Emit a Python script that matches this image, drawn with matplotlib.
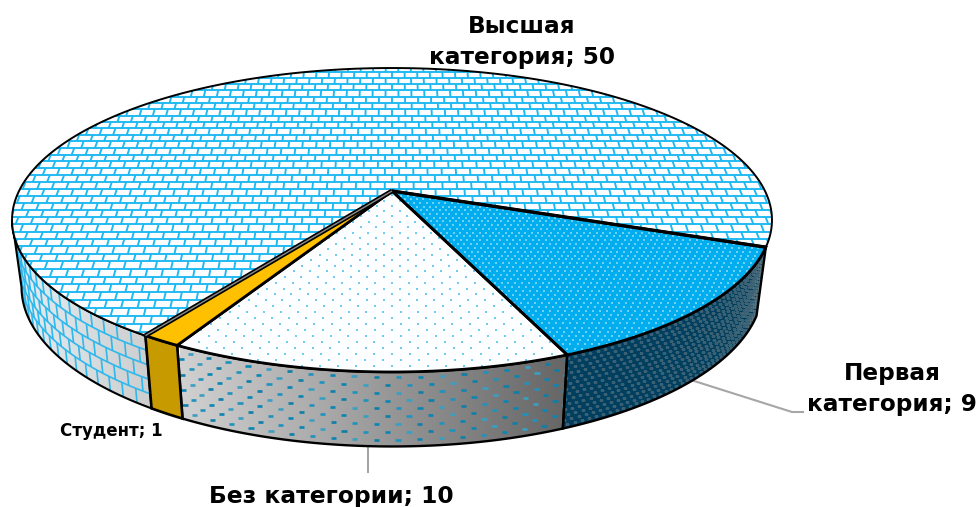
import numpy as np
import matplotlib
matplotlib.use("Agg")
import matplotlib.pyplot as plt
from matplotlib.patches import Polygon
from matplotlib.collections import LineCollection

categories = ["Высшая", "Первая", "Без категории", "Студент"]
values = [50, 9, 10, 1]

plt.rcParams["font.family"] = ["DejaVu Sans"]

fig = plt.figure(figsize=(9.8, 5.07), dpi=100)
ax = fig.add_axes([0, 0, 1, 1])
ax.set_xlim(0, 980)
ax.set_ylim(507, 0)
ax.axis("off")

# perspective of the disc, fitted on the slice corners
cx, cy = 392, 191
k = 0.1908

def top_ring(a):
    u, v = np.cos(a), np.sin(a)
    d = 1 + k * v
    return cx + 373 * u / d, (cy - 110 * v) / d

def ring(a, z=0.0):
    x, y = top_ring(a)
    xb = cx + 0.975 * (x - cx)
    yb = 1.047 * y + 57
    return x + (xb - x) * z, y + (yb - y) * z

# slices run clockwise from the student/top slice boundary
start = np.radians(-123.8)
sweeps = np.array(values) / sum(values) * 2 * np.pi
edges = start - np.concatenate([[0], np.cumsum(sweeps)])
ranges = [(edges[i], edges[i + 1]) for i in range(len(values))]

def arc(a0, a1, n=200):
    return np.linspace(a0, a1, n)

def wall_poly(a0, a1):
    t = arc(a0, a1)
    x0, y0 = ring(t, 0)
    x1, y1 = ring(t[::-1], 1)
    return np.column_stack([np.r_[x0, x1], np.r_[y0, y1]])

def top_poly(a0, a1):
    x, y = ring(arc(a0, a1), 0)
    return np.column_stack([np.r_[cx, x], np.r_[cy, y]])

def persp(y):
    return (y + 700) / 890

def brick_lines():
    rows = [60.0]
    while rows[-1] < 400:
        rows.append(rows[-1] + 7 * persp(rows[-1]))
    segs = []
    for i, y in enumerate(rows[:-1]):
        y2 = rows[i + 1]
        segs.append([(0, y), (980, y)])
        off = 0.5 if i % 2 else 0.0
        for j in np.arange(-45, 45):
            xi = (j + off) * 14.5
            segs.append([(cx + xi * persp(y), y), (cx + xi * persp(y2), y2)])
    return segs

def dot_grid(xstep, ystep, y0, y1):
    xs, ys = [], []
    y, i = y0, 0
    while y < y1:
        off = 0.5 if i % 2 else 0.0
        for j in np.arange(-120, 120):
            xs.append(cx + (j + off) * xstep * persp(y))
            ys.append(y)
        y += ystep * persp(y)
        i += 1
    return np.array(xs), np.array(ys)

def gradient_wall(poly, c_left, c_right, x0, x1):
    p = Polygon(poly, closed=True, fc="none", ec="none", zorder=2)
    ax.add_patch(p)
    ramp = np.linspace(0, 1, 256)[None, :, None]
    img = (1 - ramp) * np.array(c_left) + ramp * np.array(c_right)
    im = ax.imshow(img, extent=[x0, x1, 460, 200], aspect="auto", zorder=2, interpolation="bilinear")
    im.set_clip_path(p)
    ax.set_xlim(0, 980)
    ax.set_ylim(507, 0)

# ---- walls
a0, a1 = ranges[0]
# left part of the big slice, ends at the silhouette of the disc
left_end = np.radians(-169)
wall_a = arc(a0, left_end)
gradient_wall(wall_poly(a0, left_end), (0.90, 0.94, 0.96), (0.80, 0.80, 0.80), 10, 155)
segs = []
for r, z in enumerate(np.linspace(0, 1, 6)[1:-1]):
    x, y = ring(wall_a, z)
    segs.append(np.column_stack([x, y]))
for r in range(5):
    z0, z1 = r / 5, (r + 1) / 5
    off = 0.5 if r % 2 else 0.0
    for j in np.arange(0, 20):
        t = a0 - np.radians((j + off) * 2.6)
        xa, ya = ring(t, z0)
        xb, yb = ring(t, z1)
        segs.append(np.array([[xa, ya], [xb, yb]]))
lc = LineCollection(segs, colors="#2fb8ec", linewidths=1.2, zorder=3)
ax.add_collection(lc)
p = Polygon(wall_poly(a0, left_end), closed=True, fc="none", ec="none", zorder=3)
ax.add_patch(p)
lc.set_clip_path(p)
ax.add_patch(Polygon(wall_poly(a0, left_end), closed=True, fc="none", ec="black", lw=1.5, zorder=6))

# first category wall
a0, a1 = ranges[1]
poly = wall_poly(a0, a1)
p = Polygon(poly, closed=True, fc="#003f5f", ec="none", zorder=2)
ax.add_patch(p)
rows, cols = [], []
for r, z in enumerate(np.arange(0.04, 1, 0.07)):
    off = 0.5 if r % 2 else 0.0
    t = a0 - np.radians(1.1) * (np.arange(0, 43) + off)
    x, y = ring(t, z)
    rows.append(x)
    cols.append(y)
sc = ax.scatter(np.concatenate(rows), np.concatenate(cols), s=5, marker="_", c="#7f8a8c", linewidths=0.9, alpha=0.45, zorder=3)
sc.set_clip_path(p)
ax.add_patch(Polygon(poly, closed=True, fc="none", ec="black", lw=1.7, zorder=6))

# no category wall
a0, a1 = ranges[2]
poly = wall_poly(a0, a1)
gradient_wall(poly, (0.40, 0.40, 0.40), (0.82, 0.82, 0.82), 565, 180)
p = Polygon(poly, closed=True, fc="none", ec="none", zorder=3)
ax.add_patch(p)
dx, dy, dc = [], [], []
shades = ["#1f93bd", "#0f7fa8", "#3a9fc0", "#0a86b5"]
for r, z in enumerate(np.arange(0.07, 1, 0.105)):
    off = 0.5 if r % 2 else 0.0
    t = a0 - np.radians(2.75) * (np.arange(0, 20) + off)
    x, y = ring(t, z)
    dx.append(x)
    dy.append(y)
    dc += [shades[(r + j) % 4] for j in range(20)]
sc = ax.scatter(np.concatenate(dx), np.concatenate(dy), s=14, marker="_", c=dc, linewidths=1.9, zorder=4)
sc.set_clip_path(p)
ax.add_patch(Polygon(poly, closed=True, fc="none", ec="black", lw=1.7, zorder=6))

# student wall
a0, a1 = ranges[3]
ax.add_patch(Polygon(wall_poly(a0, a1), closed=True, fc="#c79a00", ec="black", lw=1.9, zorder=6))

# ---- top faces
# big slice, bricks
poly = top_poly(*ranges[0])
p = Polygon(poly, closed=True, fc="#fbfdfe", ec="none", zorder=7)
ax.add_patch(p)
lc = LineCollection(brick_lines(), colors="#1cb8f2", linewidths=1.35, zorder=8)
ax.add_collection(lc)
lc.set_clip_path(p)
ax.add_patch(Polygon(poly, closed=True, fc="none", ec="black", lw=1.4, zorder=12))

# first category, fine dots
poly = top_poly(*ranges[1])
p = Polygon(poly, closed=True, fc="#00aeef", ec="none", zorder=7)
ax.add_patch(p)
x, y = dot_grid(6.2, 3.6, 185, 365)
sc = ax.scatter(x, y, s=2.6, marker="s", c="#6fd0f5", linewidths=0, zorder=8)
sc.set_clip_path(p)
ax.add_patch(Polygon(poly, closed=True, fc="none", ec="black", lw=2.0, zorder=12))

# no category, sparse dots
poly = top_poly(*ranges[2])
p = Polygon(poly, closed=True, fc="#fcfeff", ec="none", zorder=7)
ax.add_patch(p)
x, y = dot_grid(15, 5.2, 185, 380)
sc = ax.scatter(x, y, s=2.6, marker="s", c="#70ccf0", linewidths=0, zorder=8)
sc.set_clip_path(p)
ax.add_patch(Polygon(poly, closed=True, fc="none", ec="black", lw=2.0, zorder=12))

# student
poly = top_poly(*ranges[3])
ax.add_patch(Polygon(poly, closed=True, fc="#ffc000", ec="black", lw=2.0, zorder=13))

# dark strip along the student slice
xs, ys = ring(np.array([ranges[0][0]]), 0)
ax.plot([cx, xs[0]], [cy, ys[0]], color="black", lw=3.4, zorder=14, solid_capstyle="butt")
ax.plot([cx, xs[0]], [cy, ys[0]], color="#8a8a8a", lw=1.0, zorder=15, solid_capstyle="butt")

# thick boundary between the two upper slices
xs, ys = ring(np.array([ranges[0][1]]), 0)
ax.plot([cx, xs[0]], [cy, ys[0]], color="black", lw=2.4, zorder=14, solid_capstyle="butt")

# ---- leaders and labels
ax.plot([691, 792, 803], [380, 412, 412], color="#a6a6a6", lw=1.5, zorder=1)
ax.plot([368, 368], [447, 472], color="#a6a6a6", lw=1.5, zorder=1)

lab = dict(ha="center", va="center", fontweight="bold", color="black")
ax.text(522, 42, "Высшая\nкатегория; 50", fontsize=16.7, linespacing=1.42, **lab)
ax.text(892, 389, "Первая\nкатегория; 9", fontsize=16.7, linespacing=1.42, **lab)
ax.text(331, 496, "Без категории; 10", fontsize=16.8, **lab)
ax.text(111, 431, "Студент; 1", fontsize=12, **lab)

fig.savefig("out.png", dpi=100)
